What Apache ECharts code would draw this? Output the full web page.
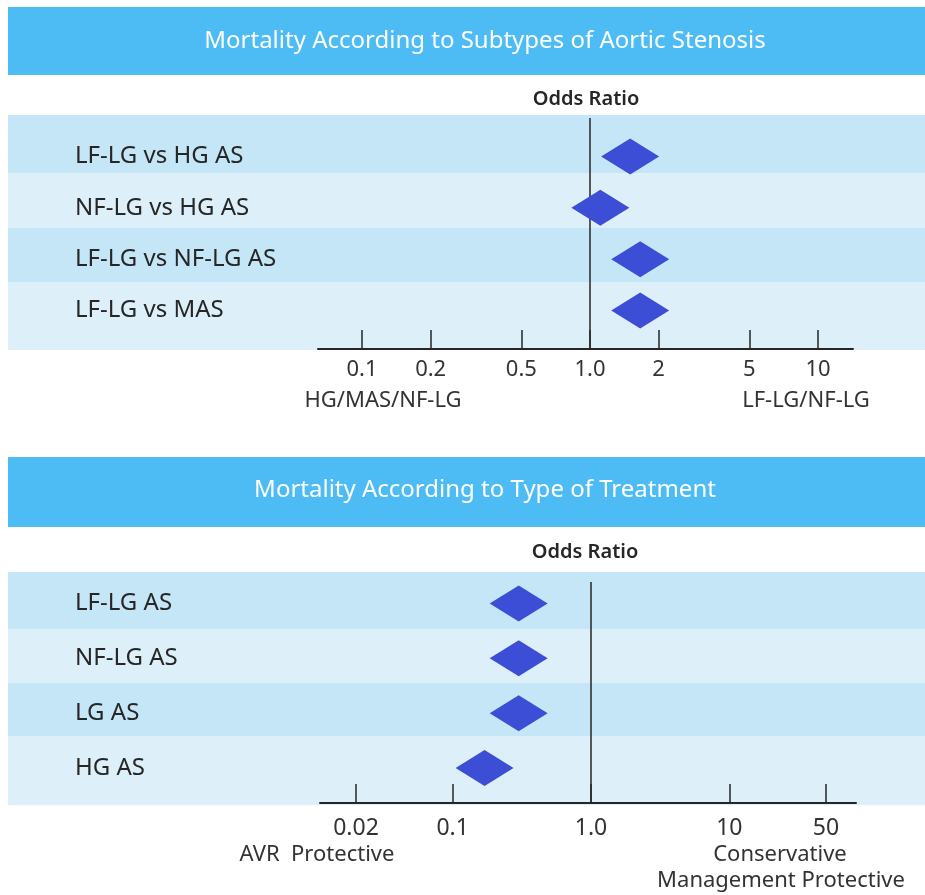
<!DOCTYPE html>
<html><head><meta charset="utf-8">
<script src="https://cdn.jsdelivr.net/npm/echarts@6/dist/echarts.min.js"></script>
<style>html,body{margin:0;padding:0;background:#fff}#c{width:925px;height:895px}</style>
</head><body><div id="c"></div>
<script>
// ---- data ----
const subtypeCategories = ['LF-LG vs HG AS', 'NF-LG vs HG AS', 'LF-LG vs NF-LG AS', 'LF-LG vs MAS'];
const subtypeOR = [1.50, 1.11, 1.66, 1.66];
const subtypeTicks = [0.1, 0.2, 0.5, 1, 2, 5, 10];
const subtypeTickLabels = ['0.1', '0.2', '0.5', '1.0', '2', '5', '10'];

const treatmentCategories = ['LF-LG AS', 'NF-LG AS', 'LG AS', 'HG AS'];
const treatmentOR = [0.30, 0.30, 0.30, 0.17];
const treatmentTicks = [0.02, 0.1, 1, 10, 50];
const treatmentTickLabels = ['0.02', '0.1', '1.0', '10', '50'];

// ---- styles ----
const FONT = '"Noto Sans", sans-serif';
const BAR = '#4DBCF5';
const BAND_DARK = '#C4E6F6';
const BAND_LIGHT = '#DDF0FA';
const DIAMOND = '#3C4ED6';
const INK = '#262626';

const chart = echarts.init(document.getElementById('c'), null, {renderer: 'canvas'});

function bands(tops, bottom) {
  const out = [];
  for (let i = 0; i < tops.length; i++) {
    const y0 = tops[i], y1 = i + 1 < tops.length ? tops[i + 1] : bottom;
    out.push({type: 'rect', z: -10, silent: true,
      shape: {x: 8, y: y0, width: 917, height: y1 - y0},
      style: {fill: i % 2 === 0 ? BAND_DARK : BAND_LIGHT}});
  }
  return out;
}

function tickIndexFormatter(ticks, labels) {
  return function (v) {
    for (let i = 0; i < ticks.length; i++) {
      if (Math.abs(Math.log10(v) - Math.log10(ticks[i])) < 1e-6) return labels[i];
    }
    return '';
  };
}

function xAxisFor(gridIndex, min, max, ticks, labels, fontSize, margin) {
  return {
    type: 'log', logBase: 10, gridIndex, min, max, position: 'bottom',
    axisLine: {show: true, onZero: false, lineStyle: {color: INK, width: 2}},
    axisTick: {show: true, inside: true, length: 19, customValues: ticks, lineStyle: {color: INK, width: 1.5}},
    axisLabel: {show: true, customValues: ticks, formatter: tickIndexFormatter(ticks, labels),
      margin, fontFamily: FONT, fontSize, color: '#333'},
    splitLine: {show: false}, minorTick: {show: false}
  };
}

function yAxisFor(gridIndex, min, max, cats, margin) {
  return {
    type: 'value', gridIndex, inverse: true, min, max,
    axisLine: {show: false, onZero: false}, axisTick: {show: false}, splitLine: {show: false},
    axisLabel: {show: true, customValues: cats.map((c, i) => i),
      formatter: v => cats[Math.round(v)] || '', align: 'left', margin,
      fontFamily: FONT, fontSize: 24, color: INK}
  };
}

function forestSeries(idx, values) {
  return {
    type: 'scatter', xAxisIndex: idx, yAxisIndex: idx,
    symbol: 'diamond', symbolSize: [58, 36],
    itemStyle: {color: DIAMOND, opacity: 1},
    data: values.map((v, i) => [v, i]),
    markLine: {silent: true, symbol: 'none', label: {show: false},
      lineStyle: {color: INK, width: 1.5, type: 'solid'},
      data: [{xAxis: 1}]},
    z: 5
  };
}

const option = {
  backgroundColor: '#fff',
  animation: false,
  grid: [
    {left: 318, right: 72, top: 118, bottom: 546},
    {left: 320, right: 69, top: 582, bottom: 92}
  ],
  xAxis: [
    xAxisFor(0, 0.0641, 14.24, subtypeTicks, subtypeTickLabels, 22, 10),
    xAxisFor(1, 0.01098, 82.4, treatmentTicks, treatmentTickLabels, 23, 14)
  ],
  yAxis: [
    yAxisFor(0, -0.75, 3.75, subtypeCategories, 318 - 75),
    yAxisFor(1, -0.392, 3.639, treatmentCategories, 320 - 75)
  ],
  series: [forestSeries(0, subtypeOR), forestSeries(1, treatmentOR)],
  graphic: [
    {type: 'rect', z: -10, silent: true, shape: {x: 8, y: 7, width: 917, height: 68}, style: {fill: BAR}},
    {type: 'rect', z: -10, silent: true, shape: {x: 8, y: 457, width: 917, height: 70}, style: {fill: BAR}},
    ...bands([115, 173, 228, 282], 350),
    ...bands([572, 629, 683, 736], 805),
    {type: 'text', x: 485, y: 41, silent: true,
      style: {text: 'Mortality According to Subtypes of Aortic Stenosis', fill: '#fff',
        font: '24px ' + FONT, textAlign: 'center', textVerticalAlign: 'middle'}},
    {type: 'text', x: 485, y: 490, silent: true,
      style: {text: 'Mortality According to Type of Treatment', fill: '#fff',
        font: '24px ' + FONT, textAlign: 'center', textVerticalAlign: 'middle'}},
    {type: 'text', x: 586, y: 99, silent: true,
      style: {text: 'Odds Ratio', fill: INK, font: '600 20px ' + FONT, textAlign: 'center', textVerticalAlign: 'middle'}},
    {type: 'text', x: 585, y: 552, silent: true,
      style: {text: 'Odds Ratio', fill: INK, font: '600 20px ' + FONT, textAlign: 'center', textVerticalAlign: 'middle'}},
    {type: 'text', x: 383, y: 401, silent: true,
      style: {text: 'HG/MAS/NF-LG', fill: '#333', font: '22px ' + FONT, textAlign: 'center', textVerticalAlign: 'middle'}},
    {type: 'text', x: 806, y: 401, silent: true,
      style: {text: 'LF-LG/NF-LG', fill: '#333', font: '22px ' + FONT, textAlign: 'center', textVerticalAlign: 'middle'}},
    {type: 'text', x: 317, y: 855, silent: true,
      style: {text: 'AVR  Protective', fill: '#333', font: '22px ' + FONT, textAlign: 'center', textVerticalAlign: 'middle'}},
    {type: 'text', x: 780, y: 855, silent: true,
      style: {text: 'Conservative', fill: '#333', font: '22px ' + FONT, textAlign: 'center', textVerticalAlign: 'middle'}},
    {type: 'text', x: 781, y: 881, silent: true,
      style: {text: 'Management Protective', fill: '#333', font: '22px ' + FONT, textAlign: 'center', textVerticalAlign: 'middle'}}
  ]
};
chart.setOption(option);
</script>
</body></html>
